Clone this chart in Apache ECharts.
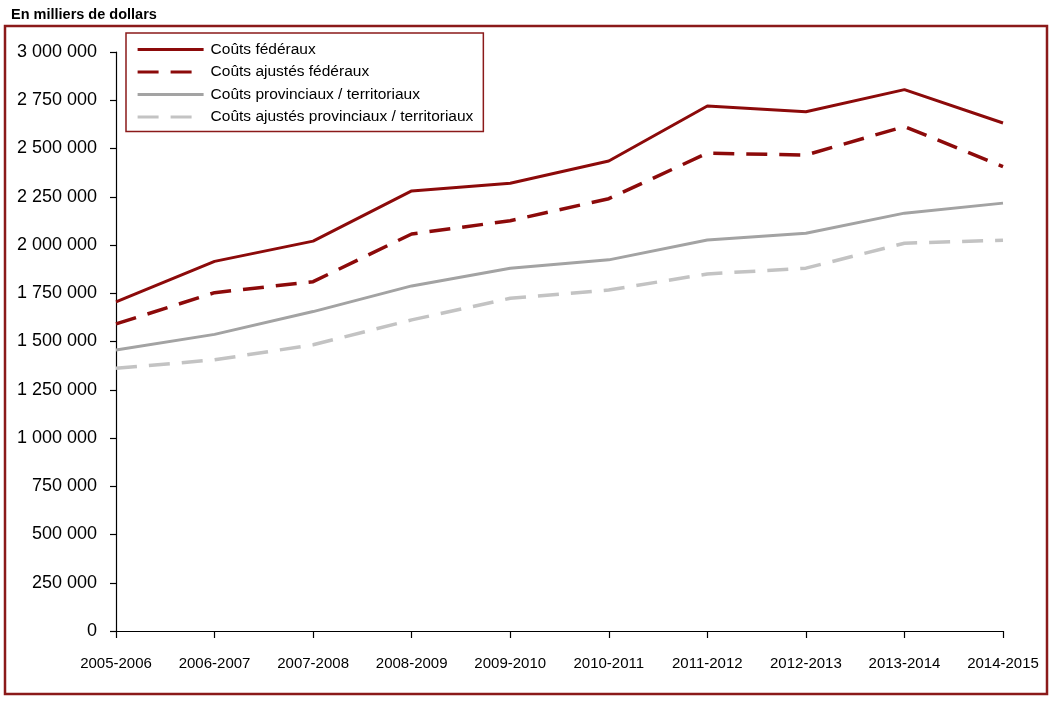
<!DOCTYPE html>
<html>
<head>
<meta charset="utf-8">
<script src="https://cdn.jsdelivr.net/npm/echarts@6/dist/echarts.min.js"></script>
<style>html,body{margin:0;padding:0;background:#fff}#c{width:1055px;height:703px}</style>
</head>
<body>
<div id="c"></div>
<script>
const categories = ['2005-2006','2006-2007','2007-2008','2008-2009','2009-2010','2010-2011','2011-2012','2012-2013','2013-2014','2014-2015'];
const coutsFederaux = [1705000, 1915000, 2020000, 2280000, 2320000, 2435000, 2720000, 2690000, 2805000, 2632000];
const coutsAjustesFederaux = [1591000, 1753000, 1810000, 2057000, 2126000, 2240000, 2476000, 2466000, 2614000, 2406000];
const coutsProvinciaux = [1456000, 1537000, 1655000, 1788000, 1880000, 1923000, 2026000, 2061000, 2165000, 2217000];
const coutsAjustesProvinciaux = [1361000, 1405000, 1483000, 1612000, 1724000, 1767000, 1850000, 1880000, 2009000, 2025000];
const seriesNames = ['Coûts fédéraux','Coûts ajustés fédéraux','Coûts provinciaux / territoriaux','Coûts ajustés provinciaux / territoriaux'];

const RED = '#8c0a0a';
const GRAY = '#a3a3a3';
const LGRAY = '#c3c3c3';
const FONT = 'Liberation Sans, Arial, sans-serif';

function fmt(v){ return String(v).replace(/\B(?=(\d{3})+(?!\d))/g, ' '); }

const chart = echarts.init(document.getElementById('c'), null, {renderer:'canvas'});
chart.setOption({
  animation:false,
  backgroundColor:'#fff',
  title:{text:'En milliers de dollars', left:6, top:2, textStyle:{fontFamily:FONT, fontSize:14.5, fontWeight:'bold', color:'#000'}},
  graphic:[{type:'rect', shape:{x:5, y:26, width:1042, height:668}, style:{fill:'none', stroke:'#8b1a1a', lineWidth:2.5}, z:-1}],
  legend:{
    orient:'vertical', left:126, top:33,
    padding:[8,10,6,10], itemGap:5.5, itemWidth:66, itemHeight:17,
    borderColor:'#8b1a1a', borderWidth:1.5, backgroundColor:'#fff',
    itemStyle:{opacity:0, color:'transparent', borderWidth:0},
    lineStyle:{width:3.2},
    textStyle:{fontFamily:FONT, fontSize:15.5, color:'#000', padding:[0,0,0,2], lineHeight:17},
    data:seriesNames
  },
  grid:{left:116, right:52, top:52, bottom:72, containLabel:false},
  xAxis:{
    type:'category', data:categories, boundaryGap:false,
    axisLine:{lineStyle:{color:'#000', width:1.2}},
    axisTick:{show:true, alignWithLabel:true, length:7, lineStyle:{color:'#000', width:1.2}},
    axisLabel:{margin:25, fontFamily:FONT, fontSize:15, color:'#000'},
    splitLine:{show:false}
  },
  yAxis:{
    type:'value', min:0, max:3000000, interval:250000,
    axisLine:{show:true, lineStyle:{color:'#000', width:1.2}},
    axisTick:{show:true, length:6, lineStyle:{color:'#000', width:1.2}},
    axisLabel:{margin:19, fontFamily:FONT, fontSize:18, color:'#000', formatter:fmt},
    splitLine:{show:false}
  },
  series:[
    {name:seriesNames[0], type:'line', data:coutsFederaux, symbol:'none', color:RED, lineStyle:{color:RED, width:3, type:'solid'}},
    {name:seriesNames[1], type:'line', data:coutsAjustesFederaux, symbol:'none', color:RED, lineStyle:{color:RED, width:3.5, type:[21,12]}},
    {name:seriesNames[2], type:'line', data:coutsProvinciaux, symbol:'none', color:GRAY, lineStyle:{color:GRAY, width:3, type:'solid'}},
    {name:seriesNames[3], type:'line', data:coutsAjustesProvinciaux, symbol:'none', color:LGRAY, lineStyle:{color:LGRAY, width:3.5, type:[21,12]}}
  ]
});
</script>
</body>
</html>
